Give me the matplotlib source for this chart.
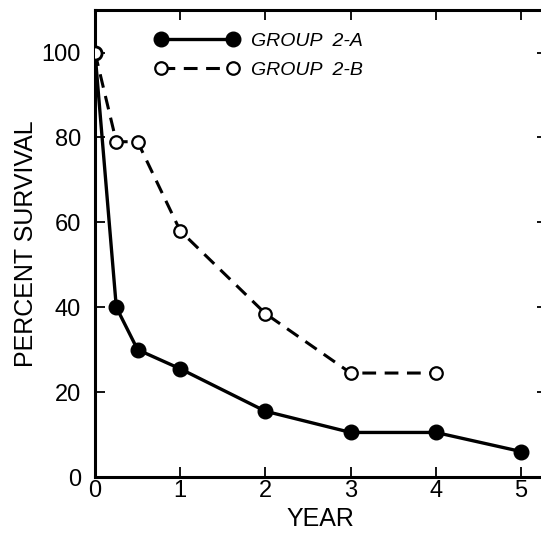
import matplotlib
matplotlib.use("Agg")
import matplotlib.pyplot as plt

plt.rcParams['font.family'] = ['Liberation Sans', 'DejaVu Sans']

## data ##
year_a = [0, 0.25, 0.5, 1, 2, 3, 4, 5]
surv_a = [100, 40, 30, 25.5, 15.5, 10.5, 10.5, 6]
year_b = [0, 0.25, 0.5, 1, 2, 3, 4]
surv_b = [100, 79, 79, 58, 38.5, 24.5, 24.5]

fig = plt.figure(figsize=(5.41, 5.34), dpi=100)
ax = fig.add_axes([0.1756, 0.1067, 0.835, 0.8743])

ax.plot(year_a, surv_a, color='black', lw=2.4, marker='o', ms=10.5,
        mfc='black', mec='black', label='GROUP  2-A', zorder=3)
ax.plot(year_b, surv_b, color='black', lw=2.2, ls=(0, (4.5, 2.8)), marker='o',
        ms=9, mfc='white', mec='black', mew=1.6, label='GROUP  2-B', zorder=4)

ax.set_xlim(0, 5.3)
ax.set_ylim(0, 110)
ax.set_xticks([0, 1, 2, 3, 4, 5])
ax.set_yticks([0, 20, 40, 60, 80, 100])
ax.tick_params(direction='in', length=7, width=1.3, labelsize=17,
               top=True, right=True)
ax.tick_params(axis='x', pad=2)
ax.tick_params(axis='y', pad=10)
for s in ax.spines.values():
    s.set_linewidth(2.2)

ax.set_xlabel('YEAR', fontsize=18, labelpad=4)
ax.set_ylabel('PERCENT SURVIVAL', fontsize=18, labelpad=3)

leg = ax.legend(loc='upper left', bbox_to_anchor=(0.095, 0.99), frameon=False,
                numpoints=2, handlelength=4.3, handletextpad=0.6,
                prop={'style': 'italic', 'size': 14}, labelspacing=0.6)

plt.savefig('out.png', dpi=100)
